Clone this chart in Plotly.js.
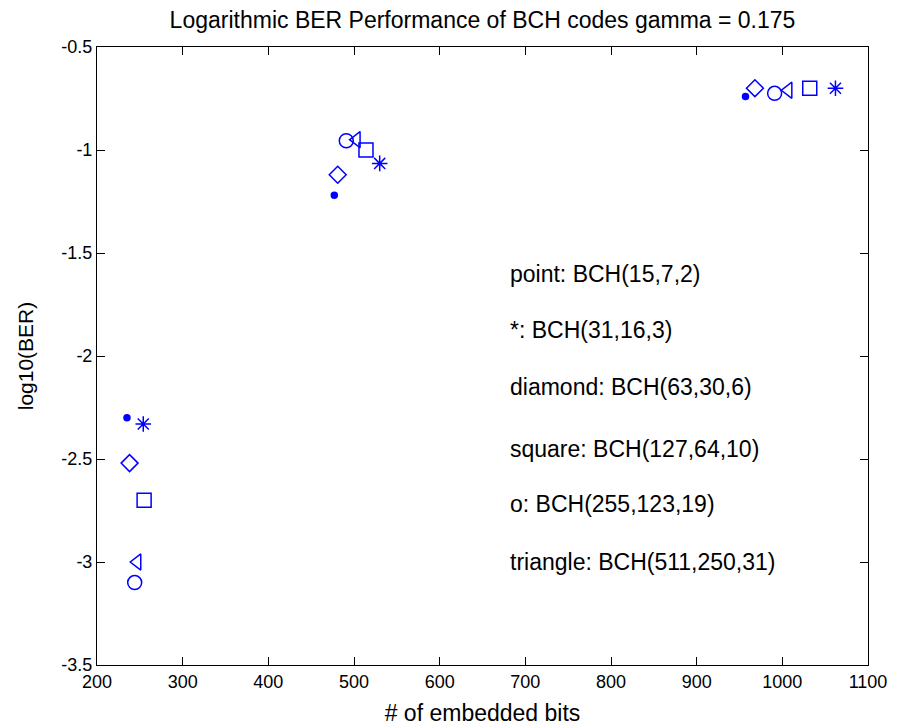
<!DOCTYPE html>
<html>
<head>
<meta charset="utf-8">
<script src="https://cdn.plot.ly/plotly-3.0.1.min.js"></script>
<style>html,body{margin:0;padding:0;background:#fff;}#chart{width:904px;height:728px;}</style>
</head>
<body>
<div id="chart"></div>
<script>
// Data
const pointX = [235, 477, 957];
const pointY = [-2.30, -1.22, -0.74];
const starX = [254, 530, 1062];
const starY = [-2.33, -1.065, -0.70];
const diamondX = [238, 481, 968];
const diamondY = [-2.52, -1.12, -0.70];
const squareX = [255, 514, 1032];
const squareY = [-2.70, -1.00, -0.70];
const circleX = [244, 491, 991];
const circleY = [-3.10, -0.955, -0.725];
const triangleX = [247, 503, 1007];
const triangleY = [-3.00, -0.95, -0.71];

const labelTexts = ["point: BCH(15,7,2)", "*: BCH(31,16,3)", "diamond: BCH(63,30,6)",
  "square: BCH(127,64,10)", "o: BCH(255,123,19)", "triangle: BCH(511,250,31)"];
const labelX = [680, 680, 680, 680, 680, 680];
const labelY = [-1.6, -1.875, -2.15, -2.45, -2.72, -3.0];

const xTicks = [200, 300, 400, 500, 600, 700, 800, 900, 1000, 1100];
const yTicks = [-3.5, -3, -2.5, -2, -1.5, -1, -0.5];

const blue = '#0000ff';
const FONT = 'Arial, "Liberation Sans", sans-serif';

function tr(x, y, symbol, size, name) {
  return {x: x, y: y, type: 'scatter', mode: 'markers', name: name,
    marker: {symbol: symbol, size: size, color: blue, line: {color: blue, width: 1.5}}};
}

const data = [
  tr(pointX, pointY, 'circle', 6, 'point'),
  tr(starX, starY, 'asterisk-open', 13, 'star'),
  tr(diamondX, diamondY, 'diamond-open', 13, 'diamond'),
  tr(squareX, squareY, 'square-open', 14, 'square'),
  tr(circleX, circleY, 'circle-open', 14, 'o'),
  tr(triangleX, triangleY, 'triangle-left-open', 14, 'triangle')
];

const annotations = labelTexts.map((t, i) => ({
  x: labelX[i], y: labelY[i], xref: 'x', yref: 'y', text: t, showarrow: false,
  xanchor: 'left', yanchor: 'middle', font: {family: FONT, size: 23, color: '#000'}
}));

const axisCommon = {
  showgrid: false, zeroline: false, showline: true, linecolor: '#000', linewidth: 1,
  mirror: 'ticks', ticks: 'inside', ticklen: 8, tickcolor: '#000', tickwidth: 1,
  tickfont: {family: FONT, size: 18, color: '#000'}
};

const layout = {
  width: 904, height: 728,
  margin: {l: 97, r: 36, t: 47, b: 63},
  paper_bgcolor: '#fff', plot_bgcolor: '#fff',
  showlegend: false,
  title: {text: 'Logarithmic BER Performance of BCH codes gamma = 0.175',
    font: {family: FONT, size: 23, color: '#000'}, xref: 'paper', x: 0.5, xanchor: 'center',
    yref: 'container', y: 0.972, yanchor: 'middle'},
  xaxis: Object.assign({}, axisCommon, {range: [200, 1100], tickvals: xTicks, ticktext: xTicks.map(String),
    title: {text: '# of embedded bits', font: {family: FONT, size: 23, color: '#000'}, standoff: 14}}),
  yaxis: Object.assign({}, axisCommon, {range: [-3.5, -0.5], tickvals: yTicks, ticktext: yTicks.map(String),
    title: {text: 'log10(BER)', font: {family: FONT, size: 21, color: '#000'}, standoff: 22}}),
  annotations: annotations
};

Plotly.newPlot('chart', data, layout, {displayModeBar: false, staticPlot: true});
</script>
</body>
</html>
